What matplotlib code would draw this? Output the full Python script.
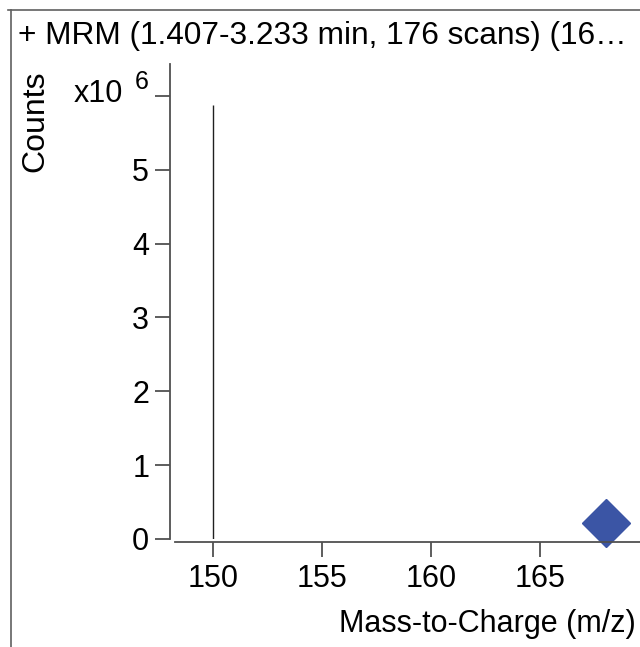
import matplotlib
matplotlib.use("Agg")
import matplotlib.pyplot as plt
from matplotlib.lines import Line2D

plt.rcParams['font.family'] = ['Liberation Sans', 'DejaVu Sans']

# Data (counts in units of 1e6)
peak_mz = [150.0]
peak_counts = [5.87]
marker_mz = [168.0]
marker_counts = [0.22]
x_ticks = [150, 155, 160, 165]
y_ticks = [0, 1, 2, 3, 4, 5, 6]
title = "+ MRM (1.407-3.233 min, 176 scans) (16\u2026"

W, H = 640, 647
fig = plt.figure(figsize=(W / 100, H / 100), dpi=100)

def fx(px):
    return px / W

def fy(py):
    return 1 - py / H

ax = fig.add_axes([fx(175), fy(539), fx(640) - fx(175), fy(64) - fy(539)])
ax.set_xlim(148.27, 169.58)
ax.set_ylim(0, 6.43)

ax.vlines(peak_mz, 0, peak_counts, color='#202020', lw=1.0)
ax.plot(marker_mz, marker_counts, marker='D', ms=24, color='#3b55a5',
        ls='none', clip_on=False)

for s in ['top', 'right']:
    ax.spines[s].set_visible(False)
ax.spines['left'].set_position(('outward', 3.6))
ax.spines['bottom'].set_position(('outward', 2.2))
for s in ['left', 'bottom']:
    ax.spines[s].set_color('#505050')
    ax.spines[s].set_linewidth(1.3)

ax.set_xticks(x_ticks)
ax.set_yticks(y_ticks)
ax.set_yticklabels(['0', '1', '2', '3', '4', '5', ''])
ax.tick_params(axis='both', colors='#505050', labelcolor='black',
               labelsize=22, length=11, width=1.3)
ax.tick_params(axis='y', pad=4)
ax.tick_params(axis='x', pad=5)

fig.text(fx(18), fy(36), title, fontsize=22.8, ha='left', va='center')
fig.text(fx(35), fy(121), 'Counts', fontsize=23, rotation=90,
         ha='center', va='center')
fig.text(fx(74), fy(94), 'x10', fontsize=22, ha='left', va='center')
fig.text(fx(135), fy(82), '6', fontsize=18, ha='left', va='center')
fig.text(fx(636), fy(624), 'Mass-to-Charge (m/z)', fontsize=22,
         ha='right', va='center')

# frame border
fig.add_artist(Line2D([fx(8), 1], [fy(10), fy(10)], color='#606060', lw=1.2))
fig.add_artist(Line2D([fx(11), fx(11)], [fy(10), 0], color='#606060', lw=1.2))

fig.savefig('out.png', dpi=100)
